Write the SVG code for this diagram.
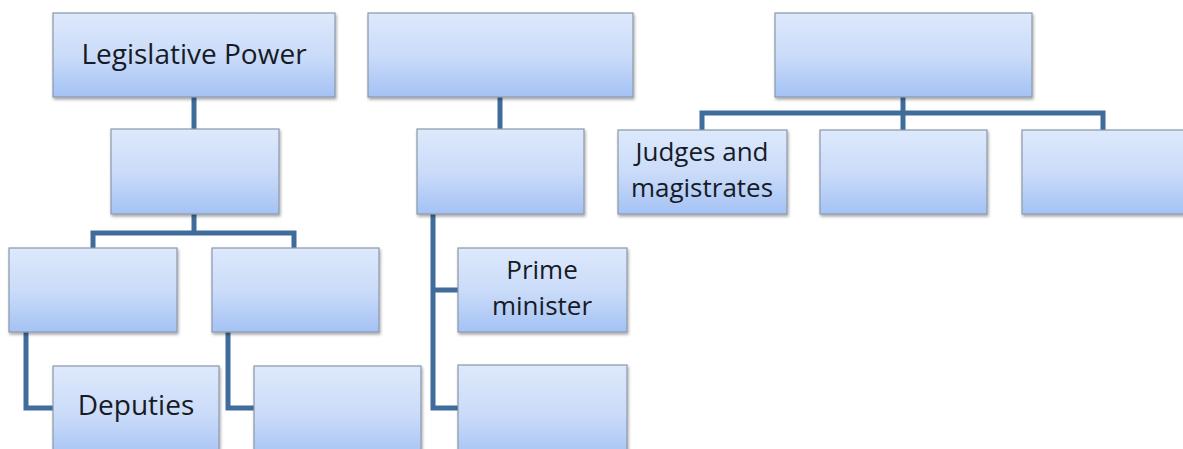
<svg xmlns="http://www.w3.org/2000/svg" width="1183" height="449" viewBox="0 0 1183 449">
<defs>
<linearGradient id="g" x1="0" y1="0" x2="0" y2="1">
<stop offset="0" stop-color="#dde9fc"/>
<stop offset="0.5" stop-color="#cbdcf9"/>
<stop offset="1" stop-color="#a4c2f4"/>
</linearGradient>
<filter id="sh" x="-10%" y="-10%" width="120%" height="130%">
<feDropShadow dx="1" dy="2" stdDeviation="1.5" flood-color="#000" flood-opacity="0.35"/>
</filter>
</defs>
<style>
.box{fill:url(#g);stroke:#8a98ab;stroke-width:1.2;filter:url(#sh)}
.ln{fill:none;stroke:#406c9b;stroke-width:5;stroke-linejoin:miter}
.t{font-family:"Open Sans","Liberation Sans",sans-serif;font-size:28px;fill:#161b26;text-anchor:middle}
.t2{font-size:26px}
</style>
<rect width="1183" height="449" fill="#ffffff"/>
<g id="connectors">
<path class="ln" d="M194 97V130"/>
<path class="ln" d="M194 214V233H93V249M194 233H294V249"/>
<path class="ln" d="M26 332V408H54"/>
<path class="ln" d="M228 332V408H255"/>
<path class="ln" d="M500 97V130"/>
<path class="ln" d="M433 214V408H459M433 290H459"/>
<path class="ln" d="M903 97V130"/>
<path class="ln" d="M702 130V113H1103V130"/>
</g>
<g id="n-legislative"><rect class="box" x="53" y="13" width="282" height="84"/><text class="t" x="194" y="64">Legislative Power</text></g>
<g id="n-top2"><rect class="box" x="368" y="13" width="265" height="84"/></g>
<g id="n-top3"><rect class="box" x="775" y="13" width="257" height="84"/></g>
<g id="n-leg-sub"><rect class="box" x="111" y="129" width="168" height="85"/></g>
<g id="n-exec-sub"><rect class="box" x="417" y="129" width="167" height="85"/></g>
<g id="n-judges"><rect class="box" x="618" y="130" width="169" height="84"/><text class="t t2" x="702" y="161">Judges and</text><text class="t t2" x="702" y="197">magistrates</text></g>
<g id="n-jud2"><rect class="box" x="820" y="130" width="167" height="84"/></g>
<g id="n-jud3"><rect class="box" x="1022" y="130" width="170" height="84"/></g>
<g id="n-leg-a"><rect class="box" x="9" y="248" width="168" height="84"/></g>
<g id="n-leg-b"><rect class="box" x="212" y="248" width="167" height="84"/></g>
<g id="n-prime"><rect class="box" x="458" y="248" width="169" height="84"/><text class="t t2" x="542" y="279">Prime</text><text class="t t2" x="542" y="315">minister</text></g>
<g id="n-deputies"><rect class="box" x="53" y="366" width="166" height="95"/><text class="t" x="136" y="415">Deputies</text></g>
<g id="n-leg-b2"><rect class="box" x="254" y="366" width="167" height="95"/></g>
<g id="n-exec-b"><rect class="box" x="458" y="365" width="169" height="96"/></g>
</svg>
